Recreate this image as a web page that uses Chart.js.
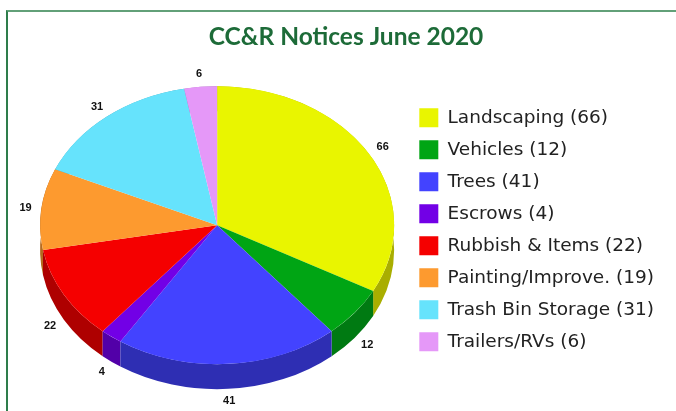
<!DOCTYPE html>
<html>
<head>
<meta charset="utf-8">
<script src="https://cdn.jsdelivr.net/npm/chart.js@4.4.1/dist/chart.umd.min.js"></script>
<style>
  html, body { margin: 0; padding: 0; background: #fff; overflow: hidden; }
  #wrap { position: relative; width: 676px; height: 411px; }
  #frame { position: absolute; left: 6px; top: 10px; width: 700px; height: 420px;
           border-top: 2px solid #62a078; border-left: 2px solid #2e7d4b; pointer-events: none; }
  canvas { position: absolute; left: 0; top: 0; }
</style>
</head>
<body>
<div id="wrap">
  <canvas id="pieChart" width="676" height="411"></canvas>
  <div id="frame"></div>
</div>
<script>
// data
var categories = ["Landscaping", "Vehicles", "Trees", "Escrows", "Rubbish & Items",
                  "Painting/Improve.", "Trash Bin Storage", "Trailers/RVs"];
var notices = [66, 12, 41, 4, 22, 19, 31, 6];
var topColors  = ["#e9f500", "#00a514", "#4343ff", "#7200e6", "#f50000", "#fd9a2f", "#66e3fc", "#e598f8"];
var sideColors = ["#a9ae00", "#007a12", "#2e2eb3", "#5200a8", "#ae0000", "#b56a1e", "#45a3b8", "#a56bb4"];

var TILT = 0.785;   // vertical squash of the pie
var DEPTH = 25;     // thickness of the pie side

var legendLabels = categories.map(function (c, i) { return c + " (" + notices[i] + ")"; });

// fake 3d: squash the pie and paint the side before the top faces
const pie3d = {
  id: "pie3d",
  beforeDatasetsDraw(chart) {
    const ctx = chart.ctx;
    const arcs = chart.getDatasetMeta(0).data;
    const cx = arcs[0].x, cy = arcs[0].y;
    ctx.save();
    ctx.translate(cx, cy);
    ctx.scale(1, TILT);
    ctx.translate(-cx, -cy);
    const off = DEPTH / TILT;
    const order = arcs.map((a, i) => i).sort((i, j) => {
      const a = arcs[i], b = arcs[j];
      return Math.sin((a.startAngle + a.endAngle) / 2) - Math.sin((b.startAngle + b.endAngle) / 2);
    });
    order.forEach(i => {
      const a = arcs[i];
      ctx.beginPath();
      ctx.arc(a.x, a.y, a.outerRadius, a.startAngle, a.endAngle);
      ctx.arc(a.x, a.y + off, a.outerRadius, a.endAngle, a.startAngle, true);
      ctx.closePath();
      ctx.fillStyle = sideColors[i];
      ctx.fill();
    });
  },
  afterDatasetsDraw(chart) {
    const ctx = chart.ctx;
    ctx.restore();
    const arcs = chart.getDatasetMeta(0).data;
    ctx.save();
    ctx.font = "bold 11px 'Liberation Sans', Arial, sans-serif";
    ctx.fillStyle = "#111";
    ctx.textAlign = "center";
    ctx.textBaseline = "middle";
    arcs.forEach((a, i) => {
      const mid = (a.startAngle + a.endAngle) / 2;
      const r = a.outerRadius * 1.09;
      const lx = a.x + r * Math.cos(mid);
      let ly = a.y + r * TILT * Math.sin(mid);
      if (Math.sin(mid) > 0) ly += DEPTH;
      ctx.fillText(String(notices[i]), lx, ly);
    });
    ctx.restore();
  }
};

Chart.defaults.font.family = "Lato";

new Chart(document.getElementById("pieChart"), {
  type: "pie",
  data: {
    labels: legendLabels,
    datasets: [{
      data: notices,
      backgroundColor: topColors,
      borderWidth: 0,
      clip: false
    }]
  },
  options: {
    responsive: false,
    animation: false,
    radius: 177,
    layout: { padding: { left: 28, right: 12, top: 11, bottom: 16 } },
    plugins: {
      title: {
        display: true,
        text: "CC&R Notices June 2020",
        color: "#1d6b38",
        font: { family: "Lato", size: 24.5, weight: "bold" },
        padding: { top: 11, bottom: 4 }
      },
      legend: {
        position: "right",
        fullSize: false,
        title: { display: true, text: "", padding: 4, font: { size: 1 } },
        labels: {
          boxWidth: 19,
          boxHeight: 19,
          padding: 13,
          color: "#222",
          font: { family: "DejaVu Sans", size: 18.5 }
        }
      },
      tooltip: { enabled: false }
    }
  },
  plugins: [pie3d]
});
</script>
</body>
</html>
